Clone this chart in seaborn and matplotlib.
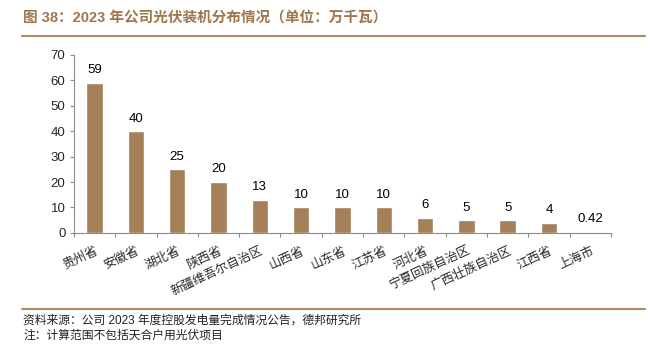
import matplotlib
matplotlib.use("Agg")
import matplotlib.pyplot as plt
import seaborn as sns
import pandas as pd
from matplotlib.lines import Line2D
from matplotlib.ticker import FixedLocator

# 2023 photovoltaic installed capacity by province (10,000 kW)
provinces = ["贵州省", "安徽省", "湖北省", "陕西省", "新疆维吾尔自治区", "山西省",
             "山东省", "江苏省", "河北省", "宁夏回族自治区", "广西壮族自治区", "江西省", "上海市"]
capacity = [59, 40, 25, 20, 13, 10, 10, 10, 6, 5, 5, 4, 0.42]
value_labels = ["59", "40", "25", "20", "13", "10", "10", "10", "6", "5", "5", "4", "0.42"]
y_ticks = [0, 10, 20, 30, 40, 50, 60, 70]

sns.set_theme(style="white")
plt.rcParams["font.family"] = ["Liberation Sans", "Noto Sans CJK SC"]

bar_color = "#A47F57"
accent = "#A0764E"
axis_grey = "#8C8C8C"

df = pd.DataFrame({"province": provinces, "capacity": capacity})

fig = plt.figure(figsize=(6.48, 3.45), dpi=100)
ax = fig.add_axes([0.114, 0.325, 0.829, 0.516])

sns.barplot(data=df, x="province", y="capacity", color=bar_color, width=0.4,
            saturation=1, ax=ax)

for i, (v, lab) in enumerate(zip(capacity, value_labels)):
    ax.text(i, v + 2.6, lab, ha="center", va="bottom", fontsize=9.5, color="#000000")

ax.set_xlim(-0.5, len(provinces) - 0.5)
ax.set_ylim(0, 70)
ax.set_yticks(y_ticks)
ax.set_yticklabels([str(t) for t in y_ticks], fontsize=9.5)
ax.set_xlabel("")
ax.set_ylabel("")

ax.set_xticks(range(len(provinces)))
ax.set_xticklabels(provinces, rotation=25, ha="right", rotation_mode="anchor",
                   fontsize=9, family=["Noto Sans CJK SC"], color="#2a2a2a")
ax.tick_params(axis="x", which="major", length=0, pad=8)
ax.xaxis.set_minor_locator(FixedLocator([i + 0.5 for i in range(-1, len(provinces))]))
ax.tick_params(axis="x", which="minor", bottom=True, length=3, width=0.8,
               color=axis_grey, direction="out")
ax.tick_params(axis="y", left=True, length=3, width=0.8, color=axis_grey,
               direction="out", pad=3)

for side in ["top", "right"]:
    ax.spines[side].set_visible(False)
for side in ["left", "bottom"]:
    ax.spines[side].set_color(axis_grey)
    ax.spines[side].set_linewidth(0.8)

# Header and footer
fig.text(0.036, 0.945, "图 38：2023 年公司光伏装机分布情况（单位：万千瓦）",
         fontsize=10.5, fontweight="bold", color=accent, ha="left", va="center",
         family=["Liberation Sans", "Noto Sans CJK SC"])
fig.add_artist(Line2D([0.034, 0.995], [0.895, 0.895], color="#B08A63", lw=1.5,
                      transform=fig.transFigure))
fig.add_artist(Line2D([0.034, 0.995], [0.105, 0.105], color="#B08A63", lw=1.5,
                      transform=fig.transFigure))
fig.text(0.036, 0.072, "资料来源：公司 2023 年度控股发电量完成情况公告，德邦研究所",
         fontsize=8.5, color="#222222", ha="left", va="center")
fig.text(0.036, 0.027, "注：计算范围不包括天合户用光伏项目",
         fontsize=8.5, color="#222222", ha="left", va="center")

fig.savefig("out.png", dpi=100)
